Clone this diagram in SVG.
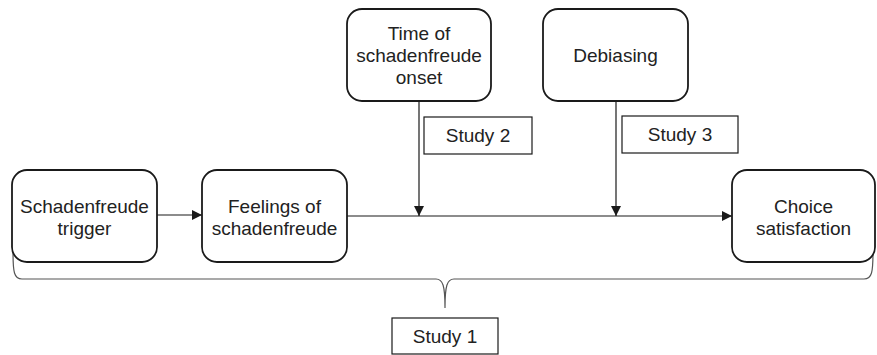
<svg xmlns="http://www.w3.org/2000/svg" width="877" height="355" viewBox="0 0 877 355">
<style>
.node{fill:#fff;stroke:#1a1a1a;stroke-width:1.8}
.lab{fill:#fff;stroke:#1a1a1a;stroke-width:1.2}
.t{font-family:"Liberation Sans",Arial,sans-serif;font-size:19px;fill:#222;text-anchor:middle}
.c{fill:none;stroke:#1a1a1a;stroke-width:1.2}
.br{fill:none;stroke:#555;stroke-width:1.2}
</style>
<defs>
<marker id="ah" viewBox="0 0 10 10" refX="10" refY="5" markerWidth="10" markerHeight="10" markerUnits="userSpaceOnUse" orient="auto">
<path d="M0,0 L10,5 L0,10 z" fill="#1a1a1a"/>
</marker>
</defs>
<rect width="877" height="355" fill="#fff"/>
<g id="connectors">
<line class="c" x1="157" y1="215" x2="202" y2="215" marker-end="url(#ah)"/>
<line class="c" x1="347" y1="216" x2="732" y2="216" marker-end="url(#ah)"/>
<line class="c" x1="419" y1="101" x2="419" y2="216" marker-end="url(#ah)"/>
<line class="c" x1="616" y1="101" x2="616" y2="216" marker-end="url(#ah)"/>
<path class="br" d="M13,252 C13,272 14,279 22,279 L436,279 C443,279 445,286 445,308 C445,286 447,279 454,279 L864,279 C872,279 873,272 873,252"/>
</g>
<g id="trigger">
<rect class="node" x="12" y="170" width="145" height="92" rx="15"/>
<text class="t" x="84.5" y="213">Schadenfreude</text>
<text class="t" x="84.5" y="235">trigger</text>
</g>
<g id="feelings">
<rect class="node" x="202" y="170" width="145" height="92" rx="15"/>
<text class="t" x="274.5" y="213">Feelings of</text>
<text class="t" x="274.5" y="235">schadenfreude</text>
</g>
<g id="choice">
<rect class="node" x="732" y="170" width="143" height="92" rx="15"/>
<text class="t" x="803.5" y="213">Choice</text>
<text class="t" x="803.5" y="235">satisfaction</text>
</g>
<g id="time">
<rect class="node" x="347" y="9" width="144" height="92" rx="15"/>
<text class="t" x="419" y="40">Time of</text>
<text class="t" x="419" y="62">schadenfreude</text>
<text class="t" x="419" y="84">onset</text>
</g>
<g id="debiasing">
<rect class="node" x="543" y="9" width="145" height="92" rx="15"/>
<text class="t" x="615.5" y="62">Debiasing</text>
</g>
<g id="study2">
<rect class="lab" x="424" y="117" width="108" height="37"/>
<text class="t" x="478" y="142">Study 2</text>
</g>
<g id="study3">
<rect class="lab" x="622" y="116" width="116" height="37"/>
<text class="t" x="680" y="141">Study 3</text>
</g>
<g id="study1">
<rect class="lab" x="392" y="318" width="106" height="36"/>
<text class="t" x="445" y="343">Study 1</text>
</g>
</svg>
